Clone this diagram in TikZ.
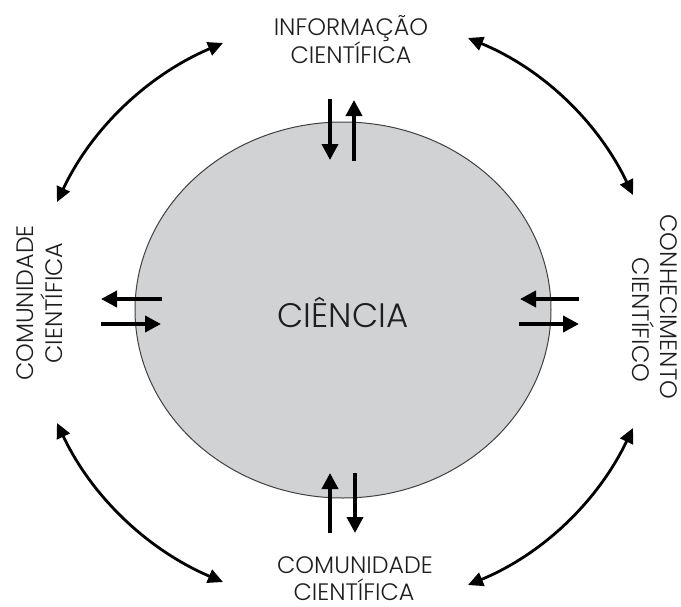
\documentclass[tikz,border=0pt]{standalone}
\usepackage{fontspec}
\setmainfont{Poppins Light}
\usetikzlibrary{arrows.meta,shapes.geometric}
\definecolor{scifill}{RGB}{209,210,212}
\definecolor{txt}{RGB}{30,30,30}
\begin{document}
\begin{tikzpicture}[x=1pt,y=-1pt,
  lbl/.style={font=\fontsize{23.8}{28}\selectfont, text=txt, inner sep=0pt, anchor=base},
  biarrow/.style={line width=2.8pt, {Triangle[length=15pt,width=14pt]}-{Triangle[length=15pt,width=14pt]}},
  uniarrow/.style={line width=3.8pt, -{Triangle[length=16pt,width=16pt]}}]
\useasboundingbox (0,0) rectangle (681,606);
% central ellipse
\node[ellipse, draw=black!75, line width=1pt, fill=scifill, minimum width=416pt, minimum height=376pt, inner sep=0pt] (sci) at (343,310) {};
\node[lbl, font=\fontsize{34}{40}\selectfont] (scitext) at (343,327) {CIÊNCIA};
% labels
\node[lbl] (top1) at (351,35) {INFORMAÇÃO};
\node[lbl] (top2) at (351,63) {CIENTÍFICA};
\node[lbl] (bot1) at (355,573) {COMUNIDADE};
\node[lbl] (bot2) at (354,600) {CIENTÍFICA};
\node[lbl, rotate=90] (left1) at (33,303) {COMUNIDADE};
\node[lbl, rotate=90] (left2) at (62,303) {CIENTÍFICA};
\node[lbl, rotate=-90] (right1) at (660,307) {CONHECIMENTO};
\node[lbl, rotate=-90] (right2) at (632,320) {CIENTÍFICO};
% straight arrow end points
\coordinate (ta1) at (330,99);  \coordinate (tb1) at (330,160);
\coordinate (ta2) at (354,161); \coordinate (tb2) at (354,100);
\coordinate (ba1) at (330,533); \coordinate (bb1) at (330,473);
\coordinate (ba2) at (355,473); \coordinate (bb2) at (355,533);
\coordinate (la1) at (162,299); \coordinate (lb1) at (101,299);
\coordinate (la2) at (101,324); \coordinate (lb2) at (161,324);
\coordinate (ra1) at (579,299); \coordinate (rb1) at (520,299);
\coordinate (ra2) at (519,324); \coordinate (rb2) at (579,324);
\draw[uniarrow] (ta1) -- (tb1);
\draw[uniarrow] (ta2) -- (tb2);
\draw[uniarrow] (ba1) -- (bb1);
\draw[uniarrow] (ba2) -- (bb2);
\draw[uniarrow] (la1) -- (lb1);
\draw[uniarrow] (la2) -- (lb2);
\draw[uniarrow] (ra1) -- (rb1);
\draw[uniarrow] (ra2) -- (rb2);
% curved arrow end points
\coordinate (tlA) at (57,202);  \coordinate (tlB) at (223,43);
\coordinate (trA) at (468,38);  \coordinate (trB) at (633,195);
\coordinate (blA) at (57,423);  \coordinate (blB) at (223,582);
\coordinate (brA) at (633,428); \coordinate (brB) at (468,585);
\draw[biarrow] (tlA) .. controls (92,128) and (148,75) .. (tlB);
\draw[biarrow] (trA) .. controls (543,69) and (598,122) .. (trB);
\draw[biarrow] (blA) .. controls (92,497) and (148,550) .. (blB);
\draw[biarrow] (brA) .. controls (598,501) and (543,554) .. (brB);
\end{tikzpicture}
\end{document}
